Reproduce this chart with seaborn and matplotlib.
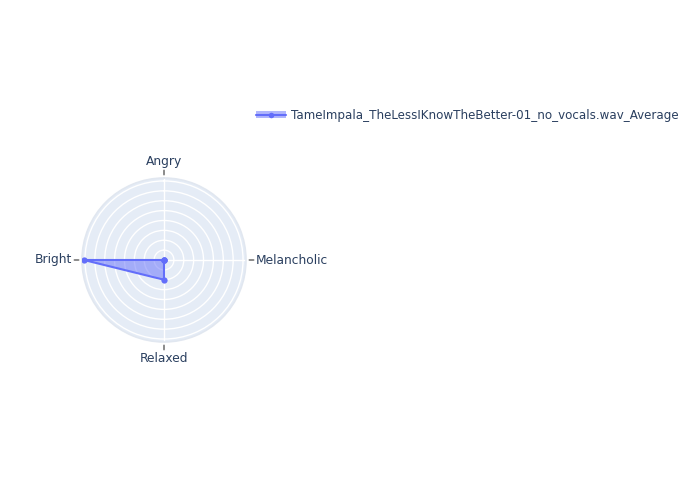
import numpy as np
import pandas as pd
import seaborn as sns
import matplotlib.pyplot as plt
from matplotlib.lines import Line2D
from matplotlib.patches import Patch

sns.set_theme(style="white")
plt.rcParams['font.family'] = ['DejaVu Sans']

# Data
categories = ['Angry', 'Melancholic', 'Relaxed', 'Bright']
values = [0.0, 0.0, 0.2, 0.81]
series_name = 'TameImpala_TheLessIKnowTheBetter-01_no_vocals.wav_Average'
rmax = 0.83
rticks = [0.1, 0.2, 0.3, 0.4, 0.5, 0.6, 0.7, 0.8]

line_col = '#636efa'
text_col = '#2a3f5f'

# closed polygon
theta = np.deg2rad(np.arange(len(categories)) * 360 / len(categories))
tb = pd.DataFrame({'theta': np.append(theta, theta[0]),
                   'r': values + values[:1]})

fig = plt.figure(figsize=(7, 5), dpi=100)
ax = fig.add_axes([82 / 700, (500 - 260 - 82) / 500, 164 / 700, 164 / 500],
                  projection='polar')
ax.set_theta_zero_location('N')
ax.set_theta_direction(-1)
ax.set_facecolor('#E5ECF6')

ax.fill(tb['theta'], tb['r'], color=line_col, alpha=0.5, lw=0, zorder=2)
sns.lineplot(data=tb, x='theta', y='r', ax=ax, sort=False, color=line_col,
             lw=1.5, marker='o', markersize=4.5, markeredgewidth=0, zorder=3,
             estimator=None)

ax.set_ylim(0, rmax)
ax.set_yticks(rticks)
ax.set_yticklabels([])
ax.set_xticks(theta)
ax.set_xticklabels([])
ax.tick_params(axis='y', length=0)
ax.grid(True, color='white', lw=1)
ax.spines['polar'].set_color('#e1e7f0')
ax.spines['polar'].set_linewidth(1.2)
ax.set_xlabel('')
ax.set_ylabel('')

# outside tick marks and category labels
align = [('center', 'bottom'), ('left', 'center'),
         ('center', 'top'), ('right', 'center')]
for t, lab, (ha, va) in zip(theta, categories, align):
    dx, dy = np.sin(t), np.cos(t)
    ax.annotate('', xy=(t, rmax), xycoords='data',
                xytext=(dx * 7.5, dy * 7.5), textcoords='offset pixels',
                arrowprops=dict(arrowstyle='-', color='#8a8a8a', lw=1.4,
                                shrinkA=0, shrinkB=2.5),
                annotation_clip=False)
    ax.annotate(lab, xy=(t, rmax), xycoords='data',
                xytext=(dx * 10, dy * 10), textcoords='offset pixels',
                ha=ha, va=va, color=text_col, fontsize=8.8,
                annotation_clip=False)

handles = [(Patch(facecolor=line_col, alpha=0.5, edgecolor='none'),
            Line2D([], [], color=line_col, lw=1.5, marker='o', markersize=4,
                   markeredgewidth=0))]
fig.legend(handles, [series_name], loc='upper left',
           bbox_to_anchor=(245 / 700, 1 - 98 / 500), frameon=False,
           fontsize=8.6, labelcolor=text_col, handlelength=2.5,
           handleheight=0.5, handletextpad=0.45)

fig.savefig('out.png', dpi=100)
